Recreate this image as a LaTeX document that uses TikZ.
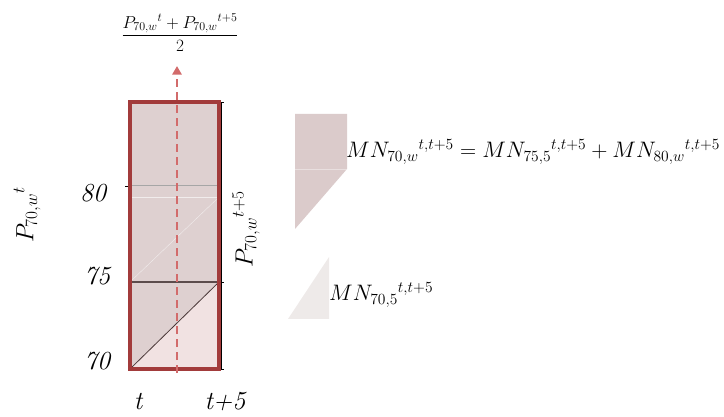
\documentclass[tikz,border=0pt]{standalone}
\usepackage{amsmath,amssymb}
\usepackage{xcolor}
\usepackage{tikz}
\usetikzlibrary{positioning,arrows.meta,calc}
\definecolor{frame}{HTML}{A23B3B}
\definecolor{upfill}{HTML}{DED0D0}
\definecolor{lowfill}{HTML}{F1E2E2}
\definecolor{dashred}{HTML}{D26B6B}
\definecolor{diag}{HTML}{4A3838}
\definecolor{shapefill}{HTML}{DBCBCB}
\definecolor{trifill}{HTML}{EEEAE9}

\begin{document}
\begin{tikzpicture}[
    x=1pt, y=-1pt,
    age/.style={font=\fontsize{26}{28}\selectfont\itshape, inner sep=0pt},
    yr/.style={font=\fontsize{26}{28}\selectfont\itshape, inner sep=0pt},
    pop/.style={font=\fontsize{24}{26}\selectfont, rotate=90, inner sep=0pt},
    eq/.style={font=\fontsize{20.74}{24}\selectfont, inner sep=0pt, anchor=base west, scale=1.08, transform shape},
    arr/.style={-{Triangle[length=3mm,width=3.2mm]}, line width=2.6pt, draw=dashred, dash pattern=on 8pt off 5pt}
]
    \useasboundingbox (0,0) rectangle (724,417);

    % Lexis cell
    \coordinate (sw) at (130,369);
    \coordinate (se) at (219,369);
    \coordinate (ne) at (219,102);
    \coordinate (nw) at (130,102);
    \coordinate (w75) at (130,282);
    \coordinate (e75) at (219,282);
    \coordinate (w80) at (130,186);
    \coordinate (e80) at (219,186);

    \fill[upfill] (sw) -- (nw) -- (ne) -- (e75) -- cycle;
    \fill[lowfill] (sw) -- (e75) -- (se) -- cycle;
    \draw[white, opacity=0.6, thin] (w75) -- (219,197);
    \draw[white, opacity=0.6, thin] (130,197) -- (219,197);
    \draw[diag, line width=0.8pt] (sw) -- (e75);
    \draw[diag!90, line width=1.1pt] (w75) -- (e75);
    \draw[gray!70, line width=1pt] (w80) -- (e80);

    % axes
    \draw[black, line width=0.8pt] (221,102) -- (221,369);
    \draw[black, line width=0.8pt] (221,102) -- (224,102);
    \draw[black, line width=0.8pt] (221,282) -- (224,282);
    \draw[black, line width=0.8pt] (221,369) -- (224,369);
    \draw[black, line width=0.8pt] (125,186) -- (130,186);

    \draw[frame, line width=4.5pt] (sw) rectangle (ne);

    % mean population
    \coordinate (base) at (177,373);
    \coordinate (tip) at (177,66);
    \draw[arr] (base) -- (tip);
    \node[font=\fontsize{17}{19}\selectfont, inner sep=0pt] (avg) at (180,33)
        {$\dfrac{P_{70,w}{}^{t}+P_{70,w}{}^{t+5}}{2}$};

    % labels
    \node[age] (a80) at (93,193) {80};
    \node[age] (a75) at (97,276) {75};
    \node[age] (a70) at (97,361) {70};
    \node[yr] (t0) at (138,402) {t};
    \node[yr] (t5) at (225,402) {t+5};
    \node[pop] (pt) at (27,215) {$P_{70,w}{}^{t}$};
    \node[pop] (pt5) at (246,229) {$P_{70,w}{}^{t+5}$};

    % legend
    \fill[shapefill] (295,114) -- (347,114) -- (347,169) -- (295,229) -- cycle;
    \draw[white, opacity=0.4, thin] (295,169) -- (347,169);
    \fill[trifill] (288,319) -- (329,257) -- (329,319) -- cycle;
    \node[eq] (mnw) at (346,158)
        {$MN_{70,w}{}^{t,t+5}=MN_{75,5}{}^{t,t+5}+MN_{80,w}{}^{t,t+5}$};
    \node[eq] (mn5) at (329,301) {$MN_{70,5}{}^{t,t+5}$};
\end{tikzpicture}
\end{document}
